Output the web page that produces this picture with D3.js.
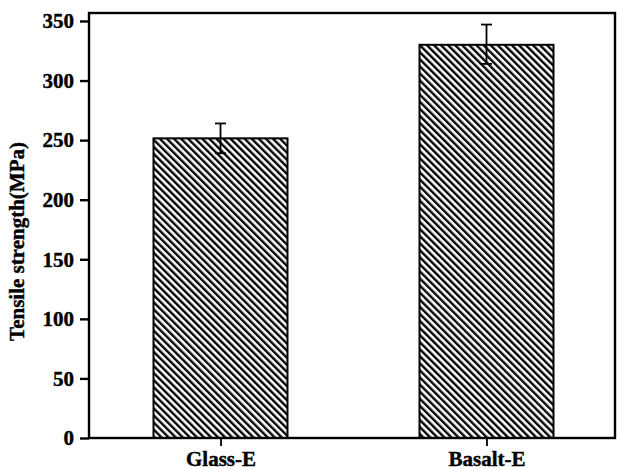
<!DOCTYPE html>
<html>
<head>
<meta charset="utf-8">
<script src="https://cdn.jsdelivr.net/npm/d3@7"></script>
<style>
  body { margin: 0; background: #fff; }
  text { font-family: "Liberation Serif", "Times New Roman", serif; font-weight: bold; }
</style>
</head>
<body>
<div id="chart"></div>
<script>
// chart data
const categories = ["Glass-E", "Basalt-E"];
const strength = [251.5, 330];
const errLow = [239, 314];
const errHigh = [264, 347];
const yTicks = [0, 50, 100, 150, 200, 250, 300, 350];

const W = 617, H = 470;
const margin = { top: 13, right: 2, bottom: 32, left: 89 };
const width = W - margin.left - margin.right;
const height = H - margin.top - margin.bottom;

const svg = d3.select("#chart").append("svg")
    .attr("width", W)
    .attr("height", H);

// hatch pattern
const defs = svg.append("defs");
defs.append("pattern")
    .attr("id", "hatch")
    .attr("patternUnits", "userSpaceOnUse")
    .attr("width", 5)
    .attr("height", 5)
    .attr("patternTransform", "rotate(-45)")
    .append("rect")
    .attr("x", 0).attr("y", 0)
    .attr("width", 2.4).attr("height", 5)
    .attr("fill", "#000");

const g = svg.append("g")
    .attr("transform", `translate(${margin.left},${margin.top})`);

const y = d3.scaleLinear().domain([0, 356.7]).range([height, 0]);

const barW = 134;
const cx = [131.5, 397.5];
const cScale = d3.scaleOrdinal().domain(categories).range(cx);

// bars
g.selectAll("rect.bar")
    .data(categories)
    .join("rect")
    .attr("class", "bar")
    .attr("x", d => cScale(d) - barW / 2)
    .attr("y", (d, i) => y(strength[i]))
    .attr("width", barW)
    .attr("height", (d, i) => y(0) - y(strength[i]))
    .attr("fill", "url(#hatch)")
    .attr("stroke", "#000")
    .attr("stroke-width", 2);

// error bars
categories.forEach((c, i) => {
    const xc = cScale(c);
    g.append("line")
        .attr("x1", xc).attr("x2", xc)
        .attr("y1", y(errLow[i])).attr("y2", y(errHigh[i]))
        .attr("stroke", "#000").attr("stroke-width", 1.8);
    [errLow[i], errHigh[i]].forEach(v => {
        g.append("line")
            .attr("x1", xc - 5.5).attr("x2", xc + 5.5)
            .attr("y1", y(v)).attr("y2", y(v))
            .attr("stroke", "#000").attr("stroke-width", 1.8);
    });
});

// frame
g.append("rect")
    .attr("x", 0).attr("y", 0)
    .attr("width", width).attr("height", height)
    .attr("fill", "none")
    .attr("stroke", "#000")
    .attr("stroke-width", 2.4);

function styleText(sel) {
    sel.style("font-size", "21px")
        .style("font-family", "Liberation Serif, serif")
        .style("font-weight", "bold")
        .attr("fill", "#000")
        .attr("stroke", "#000")
        .attr("stroke-width", 0.4);
}

// y axis
const yAxis = g.append("g")
    .call(d3.axisLeft(y).tickValues(yTicks).tickSize(9).tickPadding(6));
yAxis.select(".domain").remove();
yAxis.selectAll("line").attr("stroke-width", 2.4);
yAxis.selectAll("text").call(styleText);

// x axis
const xAxis = g.append("g")
    .attr("transform", `translate(0,${height})`)
    .call(d3.axisBottom(cScale).tickSize(8).tickPadding(5));
xAxis.select(".domain").remove();
xAxis.selectAll("line").attr("stroke-width", 1.8);
xAxis.selectAll("text").call(styleText);

// y title
svg.append("text")
    .attr("transform", `translate(24,${margin.top + height / 2 + 16}) rotate(-90)`)
    .attr("text-anchor", "middle")
    .call(styleText)
    .text("Tensile strength(MPa)");
</script>
</body>
</html>
